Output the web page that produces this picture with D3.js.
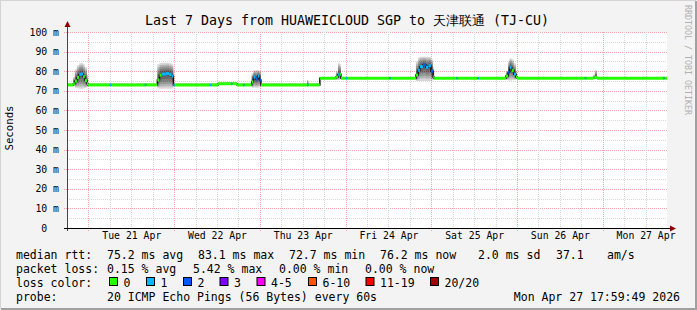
<!DOCTYPE html>
<html>
<head>
<meta charset="utf-8">
<script src="https://cdn.jsdelivr.net/npm/d3@7"></script>
<style>
  body { margin: 0; background: #fff; }
  svg text { font-family: "DejaVu Sans Mono", monospace; white-space: pre; }
</style>
</head>
<body>
<svg id="chart" width="697" height="310"></svg>
<script>
// ---- data (hours since Mon 20 Apr 18:00, values in ms) ----
var hours  = [0, 1.7, 2.2, 2.8, 3.4, 4.0, 4.5, 5.0, 5.6, 5.9, 12.0, 12.4, 21.8, 22.2,
              25.3, 25.9, 26.5, 27.7, 28.6, 29.3, 29.8, 30.2, 40.0, 40.4, 42.3, 45.9, 46.3, 47.6, 49.3, 49.7,
              51.7, 52.2, 52.8, 53.4, 53.9, 54.3, 67.2, 67.6, 70.8, 75.3, 75.9, 76.3, 76.7, 78.1, 78.5, 90.2, 90.6,
              97.7, 98.3, 98.8, 99.7, 100.5, 101.2, 101.9, 102.5, 102.8, 109.1, 109.5, 114.9, 115.3,
              122.9, 123.5, 123.9, 124.5, 125.1, 125.7, 126.0, 145.0, 145.4, 147.3, 147.8, 148.4, 166.9, 167.3, 168];
var median = [73.0, 73.6, 75.0, 76.8, 78.4, 78.6, 77.2, 75.2, 73.6, 73.0, 73.0, 73.0, 73.0, 73.0,
              75.5, 78.0, 78.5, 78.8, 78.3, 77.5, 73.0, 73.0, 73.0, 73.0, 73.6, 73.6, 73.6, 73.0, 73.0, 73.0,
              74.5, 77.0, 76.0, 77.5, 75.5, 73.0, 73.0, 73.0, 76.4, 77.0, 78.2, 78.5, 76.4, 76.4, 76.4, 76.4, 76.4,
              78.0, 80.5, 82.3, 83.2, 82.0, 82.8, 80.0, 77.0, 76.4, 76.4, 76.4, 76.4, 76.4,
              77.5, 79.5, 82.0, 80.3, 78.5, 77.0, 76.4, 76.4, 76.4, 76.6, 76.8, 76.4, 76.4, 76.4, 76.4];
var smokeLo = [72.7, 72.3, 71.5, 71.2, 71.0, 71.0, 71.2, 71.5, 72.0, 72.7, 72.7, 72.7, 72.7, 72.7,
              71.2, 71.0, 71.0, 71.0, 71.0, 71.2, 72.7, 72.7, 72.7, 72.7, 73.2, 73.2, 73.2, 72.7, 72.7, 72.7,
              71.5, 71.5, 71.5, 71.5, 71.8, 72.7, 72.7, 72.7, 76.1, 75.5, 75.5, 75.8, 76.1, 76.1, 76.1, 76.1, 76.1,
              75.0, 75.0, 75.0, 75.0, 75.0, 75.0, 75.2, 75.5, 76.1, 76.1, 76.1, 76.1, 76.1,
              75.5, 75.2, 75.2, 75.5, 75.5, 75.8, 76.1, 76.1, 76.1, 76.0, 75.8, 76.1, 76.1, 76.1, 76.1];
var smokeHi = [73.8, 77.0, 81.0, 83.0, 84.0, 84.2, 83.5, 82.0, 78.0, 73.8, 73.8, 73.8, 73.8, 73.8,
              83.5, 84.2, 84.3, 84.3, 84.0, 83.5, 73.8, 73.8, 73.8, 73.8, 74.3, 74.3, 74.3, 73.8, 73.8, 73.8,
              79.0, 80.5, 80.6, 80.6, 80.0, 73.8, 75.5, 73.8, 77.1, 80.0, 84.5, 83.5, 77.1, 77.1, 77.1, 77.1, 77.1,
              85.0, 87.0, 87.4, 87.4, 87.4, 87.2, 86.0, 82.0, 77.1, 77.1, 77.1, 77.1, 77.1,
              80.0, 85.0, 86.6, 86.0, 84.0, 80.0, 77.1, 77.1, 77.1, 78.0, 80.5, 77.1, 77.1, 77.1, 77.1];
var loss   = [0, 0, 0, 0, 1, 1, 0, 0, 0, 0, 1, 0, 1, 0,
              0, 0, 1, 1, 1, 1, 1, 0, 1, 0, 0, 1, 0, 0, 1, 0,
              0, 1, 2, 1, 2, 0, 1, 0, 0, 0, 1, 0, 0, 1, 0, 1, 0,
              0, 1, 1, 2, 1, 1, 2, 1, 0, 1, 0, 1, 0,
              0, 2, 1, 0, 1, 0, 0, 1, 0, 0, 0, 0, 1, 0, 0];

var yTicks = [0, 10, 20, 30, 40, 50, 60, 70, 80, 90, 100];
var dayLabels = ["Tue 21 Apr", "Wed 22 Apr", "Thu 23 Apr", "Fri 24 Apr", "Sat 25 Apr", "Sun 26 Apr", "Mon 27 Apr"];
var lossLabels = ["0", "1", "2", "3", "4-5", "6-10", "11-19", "20/20"];
var lossColors = ["#26ff00", "#00b8ff", "#0059ff", "#7e00ff", "#ff00ff", "#ff5500", "#ff0000", "#a00000"];
var rttLegend  = ["median rtt:", "75.2 ms avg", "83.1 ms max", "72.7 ms min", "76.2 ms now", "2.0 ms sd", "37.1", "am/s"];
var lossLegend = ["packet loss:", "0.15 % avg", "5.42 % max", "0.00 % min", "0.00 % now"];
var probeLegend = ["probe:", "20 ICMP Echo Pings (56 Bytes) every 60s"];
var title = "Last 7 Days from HUAWEICLOUD SGP to 天津联通 (TJ-CU)";
var stamp = "Mon Apr 27 17:59:49 2026";

var svg = d3.select("#chart");
var W = 697, H = 310;

// frame
svg.append("rect").attr("width", W).attr("height", H).attr("fill", "#f3f3f3");
svg.append("path").attr("d", "M0,309V0H696").attr("fill", "none").attr("stroke", "#d4d4d4").attr("stroke-width", 2);
svg.append("path").attr("d", "M1,309H696V1").attr("fill", "none").attr("stroke", "#a0a0a0").attr("stroke-width", 2);

var x = d3.scaleLinear().domain([0, 168]).range([67, 667]);
var y = d3.scaleLinear().domain([0, 100]).range([228, 32]);

svg.append("rect").attr("x", 67).attr("y", 32).attr("width", 600).attr("height", 196).attr("fill", "#fff");

var g = svg.append("g").attr("shape-rendering", "crispEdges");

// horizontal grid: minor every 5, major every 10
d3.range(5, 101, 5).forEach(function(v) {
  var major = v % 10 === 0;
  g.append("line")
    .attr("x1", major ? 64 : 67).attr("x2", 667)
    .attr("y1", Math.round(y(v)) + 0.5).attr("y2", Math.round(y(v)) + 0.5)
    .attr("stroke", major ? "#f0a8a8" : "#d8d8d8")
    .attr("stroke-dasharray", "1,1");
});
// vertical grid: minor every 6 h, major at midnight
d3.range(6, 168, 6).forEach(function(t) {
  var major = (t - 6) % 24 === 0;
  g.append("line")
    .attr("x1", Math.round(x(t)) + 0.5).attr("x2", Math.round(x(t)) + 0.5)
    .attr("y1", 32).attr("y2", major ? 231 : 228)
    .attr("stroke", major ? "#f0a8a8" : "#d8d8d8")
    .attr("stroke-dasharray", "1,1");
});

// smoke: stacked bands around the median
var bands = 6;
for (var k = bands; k >= 1; k--) {
  var f = k / bands;
  var area = d3.area()
    .x(function(d, i) { return x(hours[i]); })
    .y0(function(d, i) { return y(median[i] - (median[i] - smokeLo[i]) * f); })
    .y1(function(d, i) { return y(median[i] + (smokeHi[i] - median[i]) * f); })
    .curve(d3.curveStepAfter);
  svg.append("path").datum(hours).attr("d", area)
    .attr("fill", "#000").attr("fill-opacity", 0.16);
}

// median: dark step line, then loss coloured segments
var medLine = d3.line()
  .x(function(d, i) { return x(hours[i]); })
  .y(function(d, i) { return y(median[i]); })
  .curve(d3.curveStepAfter);
svg.append("path").datum(hours).attr("d", medLine)
  .attr("fill", "none").attr("stroke", "#111").attr("stroke-width", 1.5);
hours.slice(0, -1).forEach(function(t, i) {
  svg.append("line")
    .attr("x1", x(t)).attr("x2", x(hours[i + 1]))
    .attr("y1", y(median[i])).attr("y2", y(median[i]))
    .attr("stroke", lossColors[loss[i]]).attr("stroke-width", 3);
});

// axes
svg.append("line").attr("x1", 67.5).attr("x2", 67.5).attr("y1", 26).attr("y2", 231)
  .attr("stroke", "#444").attr("shape-rendering", "crispEdges");
svg.append("line").attr("x1", 64).attr("x2", 671).attr("y1", 228.5).attr("y2", 228.5)
  .attr("stroke", "#000").attr("shape-rendering", "crispEdges");
svg.append("path").attr("d", "M64.5,27L70.5,27L67.5,21Z").attr("fill", "#8b0000");
svg.append("path").attr("d", "M670,225.5L670,231.5L676,228.5Z").attr("fill", "#8b0000");

// y tick labels
var yAxis = d3.axisLeft(y).tickValues(yTicks).tickSize(0).tickPadding(0)
  .tickFormat(function(d) { return d === 0 ? "0\u00a0\u00a0" : d + " m"; });
var ya = svg.append("g").attr("transform", "translate(59,0)").call(yAxis);
ya.select(".domain").remove();
ya.selectAll("text").attr("font-family", "DejaVu Sans Mono").attr("font-size", "9.8px").attr("fill", "#000");

// x day labels at noon
var xAxis = d3.axisBottom(x).tickValues(d3.range(18, 168, 24)).tickSize(0).tickPadding(0)
  .tickFormat(function(d, i) { return dayLabels[i]; });
var xa = svg.append("g").attr("transform", "translate(0,232)").call(xAxis);
xa.select(".domain").remove();
xa.selectAll("text").attr("font-family", "DejaVu Sans Mono").attr("font-size", "9.8px").attr("fill", "#000");

// title and side texts
svg.append("text").attr("x", 347).attr("y", 25).attr("text-anchor", "middle")
  .attr("font-size", "13.3px").attr("fill", "#000").text(title);
svg.append("text").attr("transform", "translate(13,128) rotate(-90)").attr("text-anchor", "middle")
  .attr("font-size", "10.7px").attr("fill", "#000").text("Seconds");
svg.append("text").attr("transform", "translate(685,5) rotate(90)").attr("text-anchor", "start")
  .attr("font-size", "8.3px").attr("fill", "#b0b0b0").text("RRDTOOL / TOBI OETIKER");

// legend
var leg = svg.append("g").attr("font-size", "11.5px").attr("fill", "#000");
function legendRow(items, xs, yy) {
  items.forEach(function(s, i) {
    leg.append("text").attr("x", xs[i]).attr("y", yy).text(s);
  });
}
legendRow(rttLegend, [16, 107, 198, 289, 380, 478, 556, 607], 259);
legendRow(lossLegend, [16, 107, 193, 279, 365], 273);
leg.append("text").attr("x", 16).attr("y", 287).text("loss color:");
var lossX = [109, 146, 183, 219.5, 256.5, 308, 365.5, 430];
lossLabels.forEach(function(s, i) {
  leg.append("rect").attr("x", lossX[i] + 0.5).attr("y", 277.5).attr("width", 8).attr("height", 8)
    .attr("fill", lossColors[i]).attr("stroke", "#000").attr("stroke-width", 1);
  leg.append("text").attr("x", lossX[i] + 14.5).attr("y", 287).text(s);
});
legendRow(probeLegend, [16, 107], 301);
leg.append("text").attr("x", 680).attr("y", 301).attr("text-anchor", "end").text(stamp);
</script>
</body>
</html>
